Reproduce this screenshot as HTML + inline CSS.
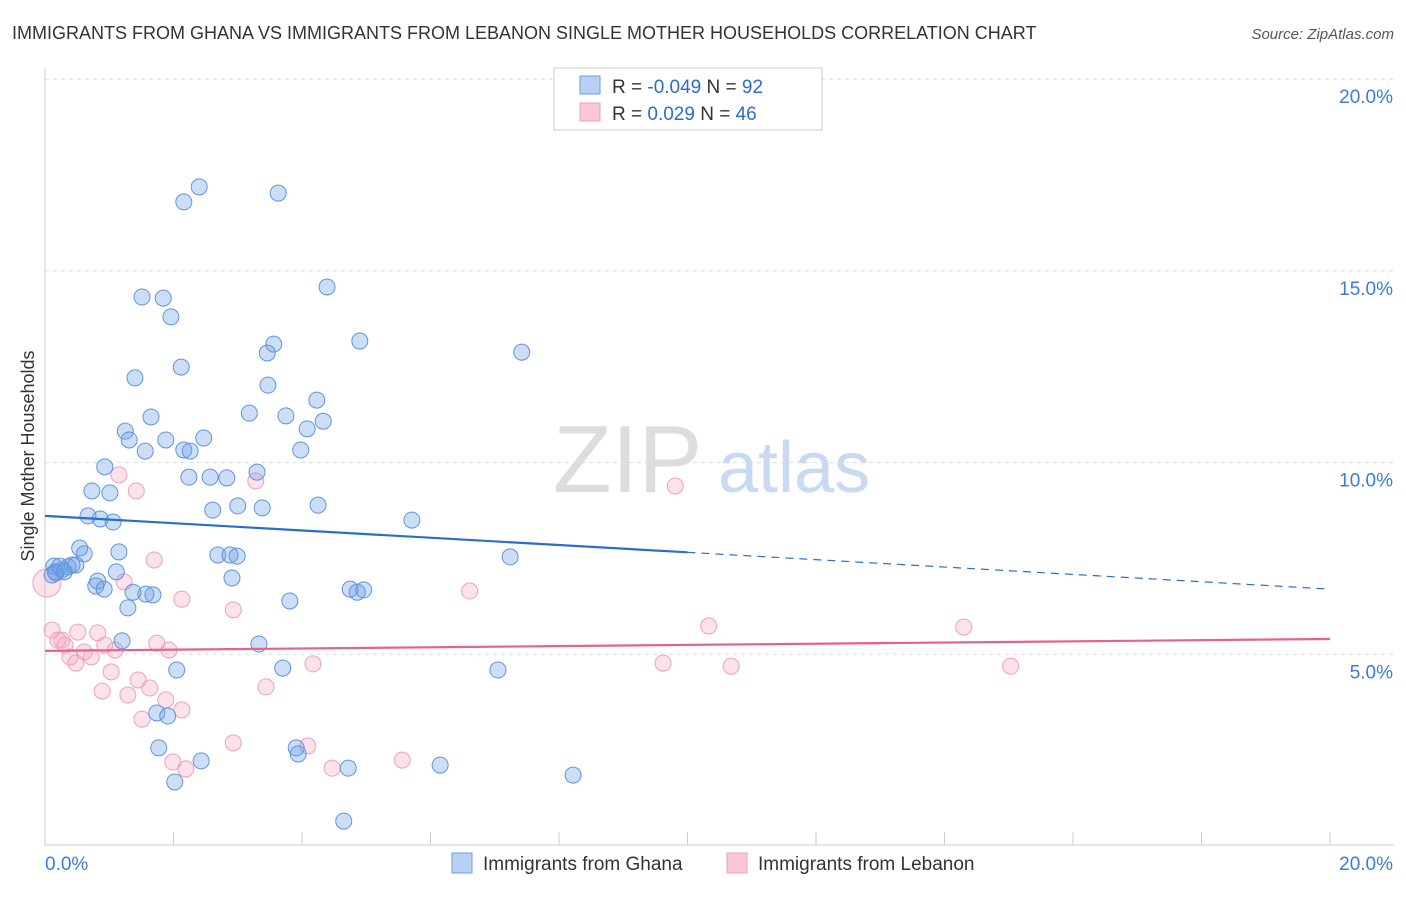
<!DOCTYPE html>
<html><head><meta charset="utf-8"><style>
body{margin:0;background:#fff;font-family:"Liberation Sans",sans-serif;}
svg text{font-family:"Liberation Sans",sans-serif;}
</style></head><body>
<svg id="chart" width="1406" height="892" viewBox="0 0 1406 892" xmlns="http://www.w3.org/2000/svg">
<text x="12" y="39" font-size="18" fill="#333">IMMIGRANTS FROM GHANA VS IMMIGRANTS FROM LEBANON SINGLE MOTHER HOUSEHOLDS CORRELATION CHART</text>
<text x="1394" y="39" font-size="15" fill="#555" font-style="italic" text-anchor="end">Source: ZipAtlas.com</text>
<g>
<text x="553" y="492" font-size="96" fill="#ddd" font-family="Liberation Serif,serif">ZIP</text>
<text x="718" y="492" font-size="72" fill="#c8daf2">atlas</text>
</g>
<g id="grid"></g>
<g id="axes"></g>
<text transform="translate(34,456) rotate(-90)" font-size="18" fill="#333" text-anchor="middle">Single Mother Households</text>
<g id="pts"></g>
<g id="trends"></g>
<g>
<rect x="554" y="68" width="268" height="62" fill="#fff" stroke="#ccc"/>
<rect x="580" y="76" width="20" height="18" fill="#b8d0f3" stroke="#6a9ee0"/>
<rect x="580" y="103" width="20" height="18" fill="#f9c6d6" stroke="#f0a0ba"/>
<text x="612" y="93" font-size="19" fill="#333">R = <tspan fill="#2a6dd2">-0.049</tspan>   N = <tspan fill="#2a6dd2">92</tspan></text>
<text x="612" y="120" font-size="19" fill="#333">R =   <tspan fill="#2a6dd2">0.029</tspan>   N = <tspan fill="#2a6dd2">46</tspan></text>
</g>
<g>
<rect x="452" y="853" width="20" height="20" fill="#b8d0f3" stroke="#6a9ee0"/>
<text x="483" y="870" font-size="19" fill="#333">Immigrants from Ghana</text>
<rect x="727" y="853" width="20" height="20" fill="#f9c6d6" stroke="#f0a0ba"/>
<text x="758" y="870" font-size="19" fill="#333">Immigrants from Lebanon</text>
</g>
</svg>
<script>
const ghanaX=[2.40,2.16,3.63,1.51,1.84,1.96,4.39,4.90,3.56,3.46,7.42,1.40,2.12,3.47,1.65,3.18,3.75,4.23,1.25,1.31,1.88,2.47,4.08,4.33,1.56,2.16,2.26,3.98,0.93,2.24,2.57,2.83,3.30,0.73,1.01,2.61,3.00,3.38,4.25,0.67,0.86,1.06,5.71,0.54,0.61,1.15,2.69,2.88,2.99,7.24,0.14,0.26,0.36,0.42,0.48,0.17,0.11,1.11,2.91,0.82,0.79,0.92,1.37,1.57,1.68,1.29,3.81,4.75,4.86,4.96,1.20,3.33,2.05,3.70,7.05,1.74,1.91,1.77,3.91,3.94,2.43,4.72,6.15,2.02,8.22,4.65,0.16,0.23,0.30];
const ghanaY=[17.19,16.80,17.03,14.32,14.29,13.80,14.58,13.17,13.09,12.86,12.88,12.21,12.49,12.02,11.19,11.29,11.22,11.63,10.82,10.59,10.59,10.64,10.88,11.08,10.30,10.33,10.30,10.33,9.89,9.62,9.62,9.60,9.75,9.26,9.21,8.76,8.87,8.82,8.89,8.61,8.53,8.45,8.50,7.77,7.62,7.67,7.59,7.59,7.56,7.54,7.30,7.20,7.28,7.33,7.33,7.12,7.07,7.15,6.99,6.91,6.78,6.70,6.62,6.57,6.55,6.21,6.39,6.70,6.62,6.68,5.35,5.27,4.59,4.64,4.59,3.47,3.39,2.56,2.56,2.40,2.22,2.03,2.11,1.67,1.85,0.65,7.15,7.30,7.15];
const lebX=[0.03,0.11,0.20,0.31,0.51,0.82,0.93,1.09,0.61,0.72,0.39,0.48,1.03,0.89,1.29,1.45,1.63,1.88,1.51,2.13,1.74,1.93,1.15,1.42,1.70,2.13,1.23,2.93,3.28,3.44,4.17,4.09,4.47,2.93,5.56,2.19,1.99,6.61,9.81,10.33,9.62,10.68,14.30,15.03,0.26];
const lebY=[6.86,5.63,5.37,5.24,5.58,5.56,5.24,5.11,5.06,4.93,4.93,4.77,4.54,4.04,3.94,4.33,4.12,3.81,3.31,3.55,5.29,5.11,9.68,9.26,7.46,6.44,6.89,6.16,9.52,4.15,4.75,2.61,2.03,2.69,2.24,2.01,2.19,6.65,9.39,5.74,4.77,4.69,5.71,4.69,5.37];
const ghanaTrendX=[0,10,20];
const ghanaTrendY=[8.61,7.66,6.70];
const lebTrendX=[0,20];
const lebTrendY=[5.09,5.40];
const yTicks=[5,10,15,20];
const yTickLabels=["5.0%","10.0%","15.0%","20.0%"];
const xTicks=[0,2,4,6,8,10,12,14,16,18,20];

const NS="http://www.w3.org/2000/svg";
const X0=45,X1=1330,Y0=846,PXY=38.34;
const sx=v=>X0+(X1-X0)*v/20;
const sy=v=>Y0-v*PXY;
function mk(tag,attrs,parent){const e=document.createElementNS(NS,tag);for(const k in attrs)e.setAttribute(k,attrs[k]);parent.appendChild(e);return e;}
const grid=document.getElementById('grid'),axes=document.getElementById('axes');
yTicks.forEach((t,i)=>{
  const l=mk('line',{x1:X0,x2:1394,y1:sy(t),y2:sy(t),stroke:'#ddd','stroke-dasharray':'4,4'},grid);
  
  
  const tx=mk('text',{x:1393,y:sy(t)+24,'font-size':19,fill:'#3d7bd8','text-anchor':'end'},axes);
  tx.textContent=yTickLabels[i];
  
  
});
const ax=mk('line',{x1:X0,x2:1394,y1:845,y2:845,stroke:'#ccc'},axes);


const ay=mk('line',{x1:X0,x2:X0,y1:68,y2:845,stroke:'#ccc'},axes);


xTicks.forEach(t=>{
  const l=mk('line',{x1:sx(t),x2:sx(t),y1:832,y2:845,stroke:'#ccc'},axes);
  
  
});
const xl0=mk('text',{x:45,y:870,'font-size':19,fill:'#3d7bd8'},axes);xl0.textContent='0.0%';


const xl1=mk('text',{x:1393,y:870,'font-size':19,fill:'#3d7bd8','text-anchor':'end'},axes);xl1.textContent='20.0%';



const pts=document.getElementById('pts');
lebX.forEach((x,i)=>{
  const c=mk('circle',{cx:sx(x),cy:sy(lebY[i]),r:i===0?14:8,fill:'rgba(244,160,190,0.3)',stroke:'#f0a0ba','stroke-width':1},pts);
  
  
});
ghanaX.forEach((x,i)=>{
  const c=mk('circle',{cx:sx(x),cy:sy(ghanaY[i]),r:8,fill:'rgba(110,160,230,0.35)',stroke:'#5f95dc','stroke-width':1},pts);
  
  
});
const tr=document.getElementById('trends');
const g1=mk('line',{x1:sx(ghanaTrendX[0]),y1:sy(ghanaTrendY[0]),x2:sx(ghanaTrendX[1]),y2:sy(ghanaTrendY[1]),stroke:'#2a6dd2','stroke-width':2.2},tr);


const g2=mk('line',{x1:sx(ghanaTrendX[1]),y1:sy(ghanaTrendY[1]),x2:sx(ghanaTrendX[2]),y2:sy(ghanaTrendY[2]),stroke:'#2a6dd2','stroke-width':1.2,'stroke-dasharray':'8,6'},tr);


const p1=mk('line',{x1:sx(lebTrendX[0]),y1:sy(lebTrendY[0]),x2:sx(lebTrendX[1]),y2:sy(lebTrendY[1]),stroke:'#e8608f','stroke-width':2.2},tr);


</script>
</body></html>
